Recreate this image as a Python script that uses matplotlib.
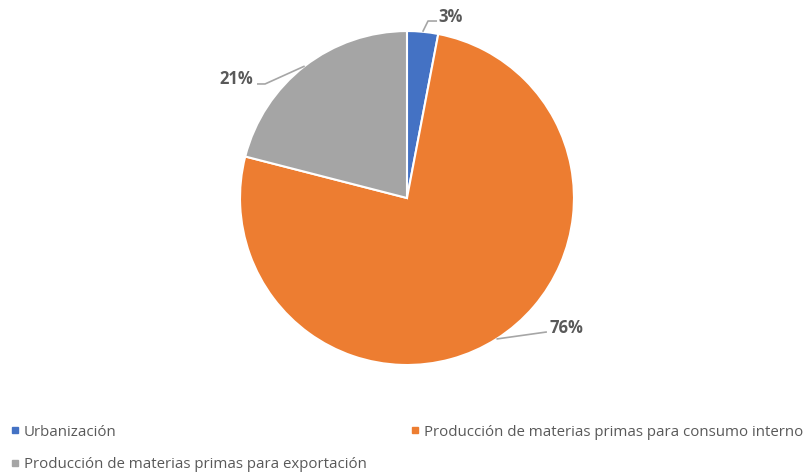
import matplotlib
matplotlib.use("Agg")
import matplotlib.pyplot as plt
import numpy as np
from matplotlib.lines import Line2D

categories = [
    "Urbanización",
    "Producción de materias primas para consumo interno",
    "Producción de materias primas para exportación",
]
values = [3, 76, 21]
labels = ["3%", "76%", "21%"]
colors = ["#4472C4", "#ED7D31", "#A5A5A5"]

text_color = "#595959"
plt.rcParams["font.family"] = ["Open Sans", "DejaVu Sans"]

fig = plt.figure(figsize=(8.10, 4.73), dpi=100)
ax = fig.add_axes([0.2963, 0.2283, 0.4123, 0.7061])

wedges, _ = ax.pie(
    values,
    colors=colors,
    startangle=90,
    counterclock=False,
    radius=1,
    wedgeprops=dict(edgecolor="white", linewidth=1.5),
)
ax.set_xlim(-1, 1)
ax.set_ylim(-1, 1)
ax.set_aspect("equal")
ax.axis("off")

# label positions (text anchor, elbow, ha) per slice
label_layout = [
    ((0.19, 1.084), [(0.126, 1.06), (0.18, 1.06)], "left"),
    ((0.855, -0.778), [(0.838, -0.802)], "left"),
    ((-0.922, 0.713), [(-0.85, 0.683), (-0.898, 0.683)], "right"),
]
for w, lab, (txt, pts, ha) in zip(wedges, labels, label_layout):
    mid = np.deg2rad((w.theta1 + w.theta2) / 2)
    start = (np.cos(mid), np.sin(mid))
    xs = [start[0]] + [p[0] for p in pts]
    ys = [start[1]] + [p[1] for p in pts]
    ax.plot(xs, ys, color="#A6A6A6", lw=1.2, clip_on=False, solid_capstyle="butt")
    ax.text(txt[0], txt[1], lab, ha=ha, va="center", fontsize=12,
            fontweight="bold", color=text_color, clip_on=False)

handles = [Line2D([], [], marker="s", linestyle="none", markersize=5,
                  markerfacecolor=c, markeredgecolor=c) for c in colors]
order = [0, 2, 1]
fig.legend(
    [handles[i] for i in order],
    [categories[i] for i in order],
    ncol=2,
    loc="upper left",
    bbox_to_anchor=(0.0074, 0.112),
    frameon=False,
    fontsize=10.8,
    labelcolor=text_color,
    handlelength=0.6,
    handletextpad=0.3,
    columnspacing=2.9,
    labelspacing=1.16,
    borderaxespad=0,
    borderpad=0.3,
)

fig.savefig("out.png", dpi=100, facecolor="white")
